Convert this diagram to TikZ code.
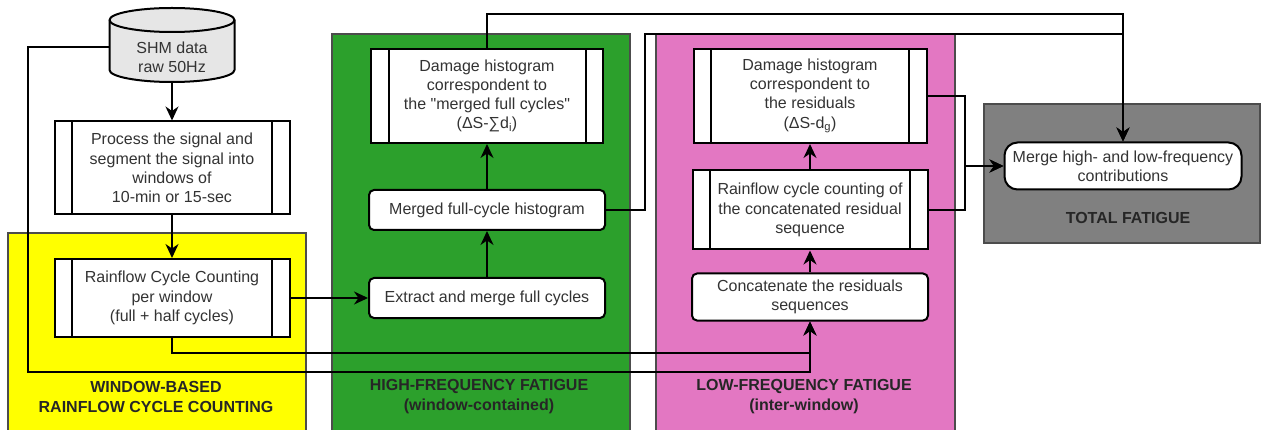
\documentclass[tikz,border=0pt]{standalone}
\usepackage{fontspec}
\setmainfont{Liberation Sans}
\usepackage{tikz}
\usetikzlibrary{arrows.meta}
\tikzset{>={Stealth[length=14pt,width=13pt,inset=4.5pt]}}
\usepackage{xcolor}
\definecolor{yellowpanel}{HTML}{FFFF00}
\definecolor{greenpanel}{HTML}{2CA02C}
\definecolor{pinkpanel}{HTML}{E377C2}
\definecolor{graypanel}{HTML}{808080}
\definecolor{cylfill}{HTML}{E6E6E6}
\definecolor{boxtext}{HTML}{333333}
\tikzset{
    box/.style={draw, line width=2pt, fill=white, text=boxtext, align=center, inner sep=0pt,
        font=\fontsize{16}{19.2}\selectfont},
    procbox/.style={box, path picture={
        \draw[line width=2pt] ([xshift=17.5pt]path picture bounding box.north west) -- ([xshift=17.5pt]path picture bounding box.south west);
        \draw[line width=2pt] ([xshift=-17.5pt]path picture bounding box.north east) -- ([xshift=-17.5pt]path picture bounding box.south east);}},
    roundbox/.style={box, rounded corners=5pt},
    panel/.style={draw=black!70, line width=1.2pt},
    paneltitle/.style={font=\bfseries\fontsize{16}{20}\selectfont, align=center, text=black!85},
    link/.style={line width=2pt},
}

\begin{document}
\begin{tikzpicture}[x=1pt, y=-1pt]
    \useasboundingbox (0,0) rectangle (1263,430);

    % panels
    \fill[yellowpanel] (8,233) rectangle (306,431);
    \draw[panel] (8,431) |- (306,233) -- (306,431);
    \fill[greenpanel] (332,34) rectangle (630,431);
    \draw[panel] (332,431) |- (630,34) -- (630,431);
    \fill[pinkpanel] (656,34) rectangle (955,431);
    \draw[panel] (656,431) |- (955,34) -- (955,431);
    \draw[panel, fill=graypanel] (984,104) rectangle (1260,243);

    \node[paneltitle] (ytitle) at (156,397) {WINDOW-BASED\\RAINFLOW CYCLE COUNTING};
    \node[paneltitle] (htitle) at (479,397) {HIGH-FREQUENCY FATIGUE\\(window-contained)};
    \node[paneltitle] (ltitle) at (804,397) {LOW-FREQUENCY FATIGUE\\(inter-window)};
    \node[paneltitle] (ttitle) at (1128,218) {TOTAL FATIGUE};

    % data cylinder
    \node[minimum width=125pt, minimum height=74pt, inner sep=0pt] (shm) at (172,45) {};
    \draw[line width=2pt, fill=cylfill] (109.5,20) -- (109.5,70)
        arc[start angle=180, end angle=360, x radius=62.5pt, y radius=12pt] -- (234.5,20)
        arc[start angle=0, end angle=180, x radius=62.5pt, y radius=12pt] -- cycle;
    \draw[line width=2pt] (109.5,20) arc[start angle=180, end angle=360, x radius=62.5pt, y radius=12pt];
    \node[text=boxtext, align=center, font=\fontsize{16}{19.2}\selectfont] (shmtext) at (172,57) {SHM data\\raw 50Hz};

    % boxes
    \node[procbox, minimum width=235pt, minimum height=93pt] (proc) at (172,168)
        {Process the signal and\\segment the signal into\\windows of\\10-min or 15-sec};
    \node[procbox, minimum width=235pt, minimum height=78pt] (rfc) at (172,298)
        {Rainflow Cycle Counting\\per window\\(full + half cycles)};

    \node[procbox, minimum width=232pt, minimum height=94pt] (hdmg) at (487,96)
        {Damage histogram\\correspondent to\\the \textquotedbl merged full cycles\textquotedbl\\(ΔS-∑d\textsubscript{i})};
    \node[roundbox, minimum width=236pt, minimum height=40pt] (mhist) at (487,210) {Merged full-cycle histogram};
    \node[roundbox, minimum width=236pt, minimum height=40pt] (extr) at (487,298) {Extract and merge full cycles};

    \node[procbox, minimum width=233pt, minimum height=94pt] (ldmg) at (810,96)
        {Damage histogram\\correspondent to\\the residuals\\(ΔS-d\textsubscript{g})};
    \node[procbox, minimum width=235pt, minimum height=79pt] (lrfc) at (810,210)
        {Rainflow cycle counting of\\the concatenated residual\\sequence};
    \node[roundbox, minimum width=236pt, minimum height=47pt] (conc) at (810,297)
        {Concatenate the residuals\\sequences};

    \node[box, rounded corners=13pt, minimum width=237pt, minimum height=47pt] (merge) at (1123,166)
        {Merge high- and low-frequency\\contributions};

    % connectors
    \coordinate (topH) at (487,14);
    \coordinate (topM) at (645,34);
    \coordinate (jL1) at (965,166);
    \coordinate (jL2) at (28,372);
    \coordinate (jL3) at (810,353);

    \draw[link, ->] (shm) -- (proc);
    \draw[link, ->] (proc) -- (rfc);
    \draw[link, ->] (rfc) -- (extr);
    \draw[link, ->] (extr) -- (mhist);
    \draw[link, ->] (mhist) -- (hdmg);
    \draw[link, ->] (conc) -- (lrfc);
    \draw[link, ->] (lrfc) -- (ldmg);

    \draw[link, ->] (hdmg.north) -- (topH) -| (merge.north);
    \draw[link, ->] (mhist.east) -| (topM) -| (merge.north);
    \draw[link, ->] (ldmg.east) -| (jL1) -- (merge.west);
    \draw[link, ->] (lrfc.east) -| (jL1) -- (merge.west);
    \draw[link, ->] ([yshift=-2pt]shm.west) -| (jL2) -| (conc.south);
    \draw[link, ->] (rfc.south) |- (jL3) -- (conc.south);
\end{tikzpicture}
\end{document}
